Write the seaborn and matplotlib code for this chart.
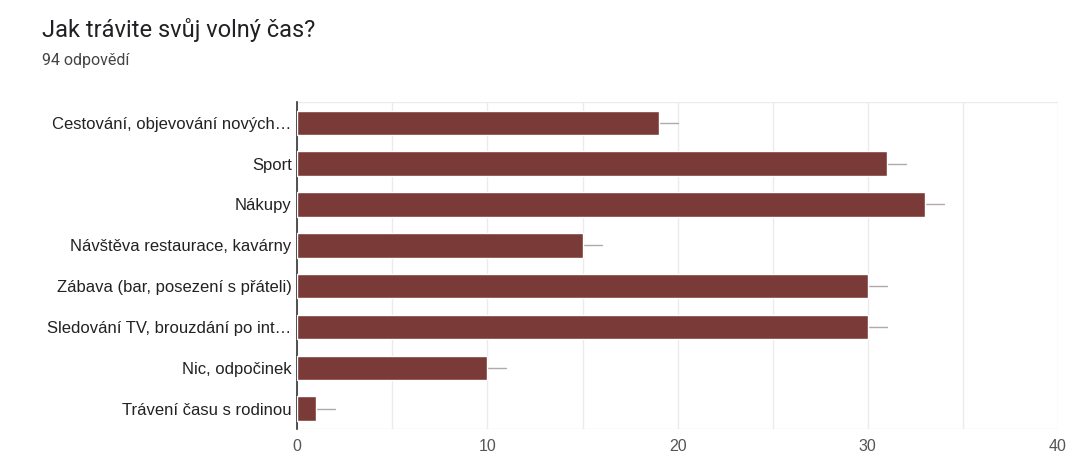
import numpy as np
import pandas as pd
import matplotlib.pyplot as plt
import seaborn as sns

categories = ['Cestování, objevování nových…', 'Sport', 'Nákupy',
              'Návštěva restaurace, kavárny', 'Zábava (bar, posezení s přáteli)',
              'Sledování TV, brouzdání po int…', 'Nic, odpočinek',
              'Trávení času s rodinou']
counts = [19, 31, 33, 15, 30, 30, 10, 1]
xticks = [0, 10, 20, 30, 40]

df = pd.DataFrame({'cat': categories, 'n': counts})

sns.set_style('white')
plt.rcParams['font.family'] = ['Liberation Sans', 'DejaVu Sans']

fig = plt.figure(figsize=(10.73, 4.59), dpi=100)
ax = fig.add_axes([0.277, 0.065, 0.709, 0.712])

sns.barplot(data=df, y='cat', x='n', color='#7a3b38', saturation=1,
            width=0.6, ax=ax, zorder=3)

# short leader lines past each bar end
for i, v in enumerate(counts):
    ax.plot([v, v + 1], [i, i], color='#b0a9a8', lw=1, zorder=2)

ax.set_xlim(0, 40)
ax.set_ylim(7.5, -0.5)
ax.set_xticks(xticks)
ax.set_xticks(np.arange(0, 41, 5), minor=True)
ax.grid(axis='x', which='both', color='#ebebeb', lw=1, zorder=0)
ax.axhline(-0.5, color='#ebebeb', lw=1, zorder=0)
ax.axhline(7.5, color='#ebebeb', lw=1, zorder=0)
for s in ['top', 'right', 'bottom']:
    ax.spines[s].set_visible(False)
ax.spines['left'].set_color('#333333')
ax.spines['left'].set_linewidth(1.2)
ax.set_xlabel('')
ax.set_ylabel('')
ax.tick_params(axis='both', which='both', length=0)
ax.tick_params(axis='y', labelsize=12, labelcolor='#222222', pad=4)
ax.tick_params(axis='x', labelsize=11.5, labelcolor='#555555', pad=7)

fig.text(0.039, 0.919, 'Jak trávite svůj volný čas?', fontsize=17,
         color='#202124', family=['Roboto', 'DejaVu Sans'])
fig.text(0.039, 0.858, '94 odpovědí', fontsize=11.5,
         color='#444444', family=['Roboto', 'DejaVu Sans'])

fig.savefig('out.png', dpi=100)
